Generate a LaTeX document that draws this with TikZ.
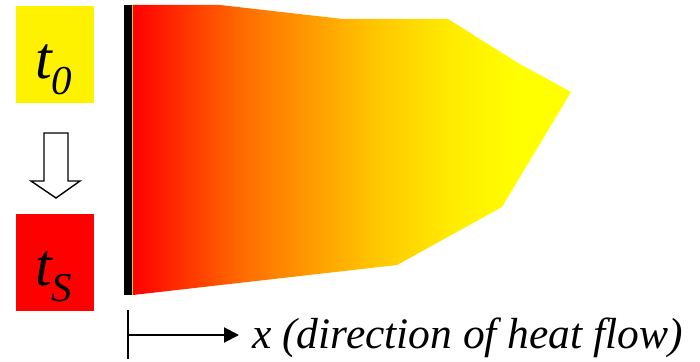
\documentclass[tikz,border=0pt]{standalone}
\usepackage{fontspec}
\setmainfont{Liberation Serif}
\usetikzlibrary{arrows.meta}
\definecolor{hA}{RGB}{255,110,0}
\definecolor{hB}{RGB}{255,195,0}
\definecolor{hC}{RGB}{255,235,0}
\definecolor{thinline}{RGB}{215,205,0}
\pgfdeclarehorizontalshading{heatsh}{100bp}{color(0bp)=(red); color(25bp)=(red); color(37.8bp)=(hA); color(52bp)=(hB); color(61.2bp)=(hC); color(69.2bp)=(yellow); color(100bp)=(yellow)}
\begin{document}
\begin{tikzpicture}[x=1pt,y=-1pt,
  tbox/.style={minimum width=78pt,minimum height=97pt,inner sep=0pt,draw=none},
  tlabel/.style={anchor=base west,inner sep=0pt},
  axisline/.style={line width=2pt,black},
  hollowarrow/.style={draw=black,line width=1.4pt,fill=white,line join=miter}]
\useasboundingbox (0,0) rectangle (700,361);
% temperature boxes
\node[tbox,fill=yellow] (b0) at (55,54.5) {};
\node[tbox,fill=red] (bs) at (55,262.5) {};
\node[tlabel] (t0) at (35,78) {\fontsize{60}{60}\selectfont\itshape t\raisebox{-16pt}{\fontsize{41}{41}\selectfont 0}};
\node[tlabel] (ts) at (35,285) {\fontsize{60}{60}\selectfont\itshape t\raisebox{-16pt}{\fontsize{41}{41}\selectfont S}};
% hollow down arrow
\draw[hollowarrow] (44,133) -- (68,133) -- (68,181) -- (80,181) -- (56,198) -- (31,181) -- (44,181) -- cycle;
% heated region
\shade[shading=heatsh] (133,5) -- (220,5) -- (343,19) -- (448,19) -- (518,63) -- (571,92) -- (502,207) -- (397,265) -- (133,295) -- cycle;
% wall
\fill[black] (124,5) rectangle (132,295);
\draw[thinline,line width=1pt] (132.6,5) -- (132.6,295);
% axis
\coordinate (tk1) at (128,310);
\coordinate (tk2) at (128,359);
\coordinate (ax0) at (128,335);
\coordinate (ax1) at (239,335);
\draw[axisline] (tk1) -- (tk2);
\draw[axisline,-{Triangle[length=15pt,width=15pt]}] (ax0) -- (ax1);
\node[tlabel] (lbl) at (252,348) {\fontsize{43.5}{43.5}\selectfont\itshape x (direction of heat flow)};
\end{tikzpicture}
\end{document}
